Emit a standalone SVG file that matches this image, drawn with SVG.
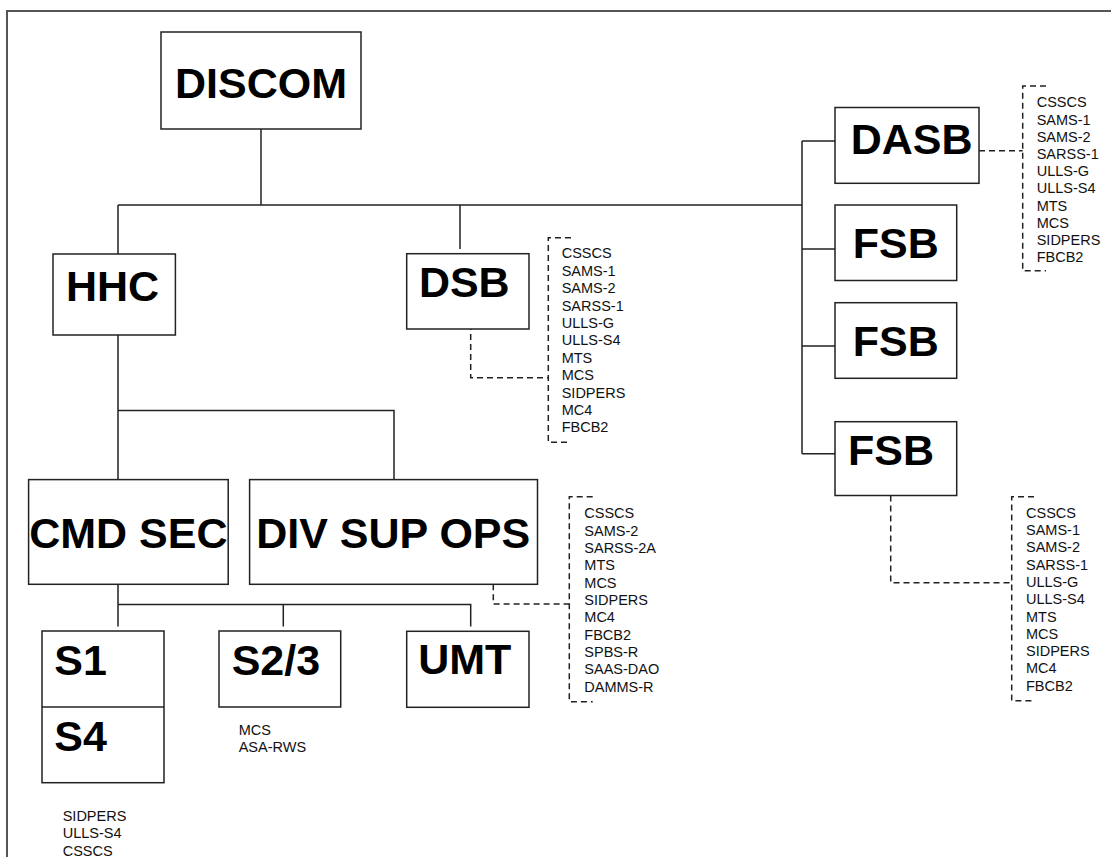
<svg xmlns="http://www.w3.org/2000/svg" width="1111" height="857" viewBox="0 0 1111 857">
<style>
.box{fill:#fff;stroke:#222;stroke-width:1.5}
.big{font-family:"Liberation Sans",Arial,sans-serif;font-weight:bold;font-size:43px;fill:#000}
.sm{font-family:"Liberation Sans",Arial,sans-serif;font-size:14.5px;fill:#111}
.ln{fill:none;stroke:#222;stroke-width:1.5}
.dl{fill:none;stroke:#222;stroke-width:1.5;stroke-dasharray:6,4}
</style>
<rect width="1111" height="857" fill="#fff"/>
<path d="M7,857 V11 H1111" fill="none" stroke="#555" stroke-width="2"/>

<g id="connectors">
<path class="ln" d="M261,129 V205 M118,205 H802 M118,205 V254 M460,205 V249"/>
<path class="ln" d="M118,335 V479.6 M118,410.4 H394 V479.6"/>
<path class="ln" d="M802,141 V453.7 M802,141 H835 M802,249 H835 M802,346 H835 M802,453.7 H835"/>
<path class="ln" d="M118,584.3 V626.5 M118,604.5 H470.7 V626.5 M283.3,604.5 V626.5"/>
<path class="dl" d="M470.7,324 V377.7 H548"/>
<path class="dl" d="M979,150.7 H1022.7"/>
<path class="dl" d="M890.7,495.5 V582.7 H1011.7"/>
<path class="dl" d="M493.3,584.3 V604 H569.3"/>
</g>

<g id="discom"><rect class="box" x="161" y="32" width="200" height="97"/><text class="big" x="261" y="97.7" text-anchor="middle">DISCOM</text></g>
<g id="hhc"><rect class="box" x="53" y="254" width="122.4" height="81"/><text class="big" x="112.5" y="300.7" text-anchor="middle">HHC</text></g>
<g id="dsb"><rect class="box" x="406.7" y="253.7" width="122.3" height="75.3"/><text class="big" x="464.3" y="297.3" text-anchor="middle">DSB</text></g>
<g id="cmdsec"><rect class="box" x="28.6" y="479.6" width="199.6" height="104.7"/><text class="big" x="128.4" y="548" text-anchor="middle">CMD SEC</text></g>
<g id="divsupops"><rect class="box" x="249.6" y="479.6" width="287.9" height="104.7"/><text class="big" x="393.2" y="548" text-anchor="middle">DIV SUP OPS</text></g>
<g id="dasb"><rect class="box" x="835" y="107.5" width="144" height="75.8"/><text class="big" x="911.7" y="154.3" text-anchor="middle">DASB</text></g>
<g id="fsb1"><rect class="box" x="835" y="205" width="121.7" height="75.5"/><text class="big" x="895.8" y="258" text-anchor="middle">FSB</text></g>
<g id="fsb2"><rect class="box" x="835" y="302.7" width="121.7" height="75.6"/><text class="big" x="895.8" y="356" text-anchor="middle">FSB</text></g>
<g id="fsb3"><rect class="box" x="835" y="421.7" width="121.7" height="73.8"/><text class="big" x="891" y="465" text-anchor="middle">FSB</text></g>
<g id="s1s4"><rect class="box" x="42" y="631" width="122" height="151.7"/><path class="ln" d="M42,707 H164"/><text class="big" x="54.3" y="675">S1</text><text class="big" x="54.3" y="751">S4</text></g>
<g id="s23"><rect class="box" x="219" y="631" width="121.7" height="76"/><text class="big" x="231.7" y="675">S2/3</text></g>
<g id="umt"><rect class="box" x="406.7" y="631.3" width="122.3" height="76"/><text class="big" x="464.7" y="674" text-anchor="middle">UMT</text></g>

<g id="dasb-list">
<path class="dl" d="M1046,86 H1022.7 V270.7 H1046"/>
<text class="sm" x="1036.7" y="107.3"><tspan x="1036.7">CSSCS</tspan><tspan x="1036.7" dy="17.2">SAMS-1</tspan><tspan x="1036.7" dy="17.2">SAMS-2</tspan><tspan x="1036.7" dy="17.2">SARSS-1</tspan><tspan x="1036.7" dy="17.2">ULLS-G</tspan><tspan x="1036.7" dy="17.2">ULLS-S4</tspan><tspan x="1036.7" dy="17.2">MTS</tspan><tspan x="1036.7" dy="17.2">MCS</tspan><tspan x="1036.7" dy="17.2">SIDPERS</tspan><tspan x="1036.7" dy="17.2">FBCB2</tspan></text>
</g>
<g id="dsb-list">
<path class="dl" d="M571,237.7 H548.3 V442.3 H571"/>
<text class="sm" x="561.7" y="258.3"><tspan x="561.7">CSSCS</tspan><tspan x="561.7" dy="17.4">SAMS-1</tspan><tspan x="561.7" dy="17.4">SAMS-2</tspan><tspan x="561.7" dy="17.4">SARSS-1</tspan><tspan x="561.7" dy="17.4">ULLS-G</tspan><tspan x="561.7" dy="17.4">ULLS-S4</tspan><tspan x="561.7" dy="17.4">MTS</tspan><tspan x="561.7" dy="17.4">MCS</tspan><tspan x="561.7" dy="17.4">SIDPERS</tspan><tspan x="561.7" dy="17.4">MC4</tspan><tspan x="561.7" dy="17.4">FBCB2</tspan></text>
</g>
<g id="divsupops-list">
<path class="dl" d="M592.7,496.7 H569.3 V701.7 H592.7"/>
<text class="sm" x="584.3" y="518.3"><tspan x="584.3">CSSCS</tspan><tspan x="584.3" dy="17.34">SAMS-2</tspan><tspan x="584.3" dy="17.34">SARSS-2A</tspan><tspan x="584.3" dy="17.34">MTS</tspan><tspan x="584.3" dy="17.34">MCS</tspan><tspan x="584.3" dy="17.34">SIDPERS</tspan><tspan x="584.3" dy="17.34">MC4</tspan><tspan x="584.3" dy="17.34">FBCB2</tspan><tspan x="584.3" dy="17.34">SPBS-R</tspan><tspan x="584.3" dy="17.34">SAAS-DAO</tspan><tspan x="584.3" dy="17.34">DAMMS-R</tspan></text>
</g>
<g id="fsb3-list">
<path class="dl" d="M1034,496.7 H1011.7 V700.7 H1034"/>
<text class="sm" x="1026" y="517.7"><tspan x="1026">CSSCS</tspan><tspan x="1026" dy="17.3">SAMS-1</tspan><tspan x="1026" dy="17.3">SAMS-2</tspan><tspan x="1026" dy="17.3">SARSS-1</tspan><tspan x="1026" dy="17.3">ULLS-G</tspan><tspan x="1026" dy="17.3">ULLS-S4</tspan><tspan x="1026" dy="17.3">MTS</tspan><tspan x="1026" dy="17.3">MCS</tspan><tspan x="1026" dy="17.3">SIDPERS</tspan><tspan x="1026" dy="17.3">MC4</tspan><tspan x="1026" dy="17.3">FBCB2</tspan></text>
</g>
<g id="s23-list"><text class="sm" x="238.7" y="735"><tspan x="238.7">MCS</tspan><tspan x="238.7" dy="17.3">ASA-RWS</tspan></text></g>
<g id="s1s4-list"><text class="sm" x="62.7" y="821"><tspan x="62.7">SIDPERS</tspan><tspan x="62.7" dy="17.3">ULLS-S4</tspan><tspan x="62.7" dy="17.3">CSSCS</tspan></text></g>
</svg>
